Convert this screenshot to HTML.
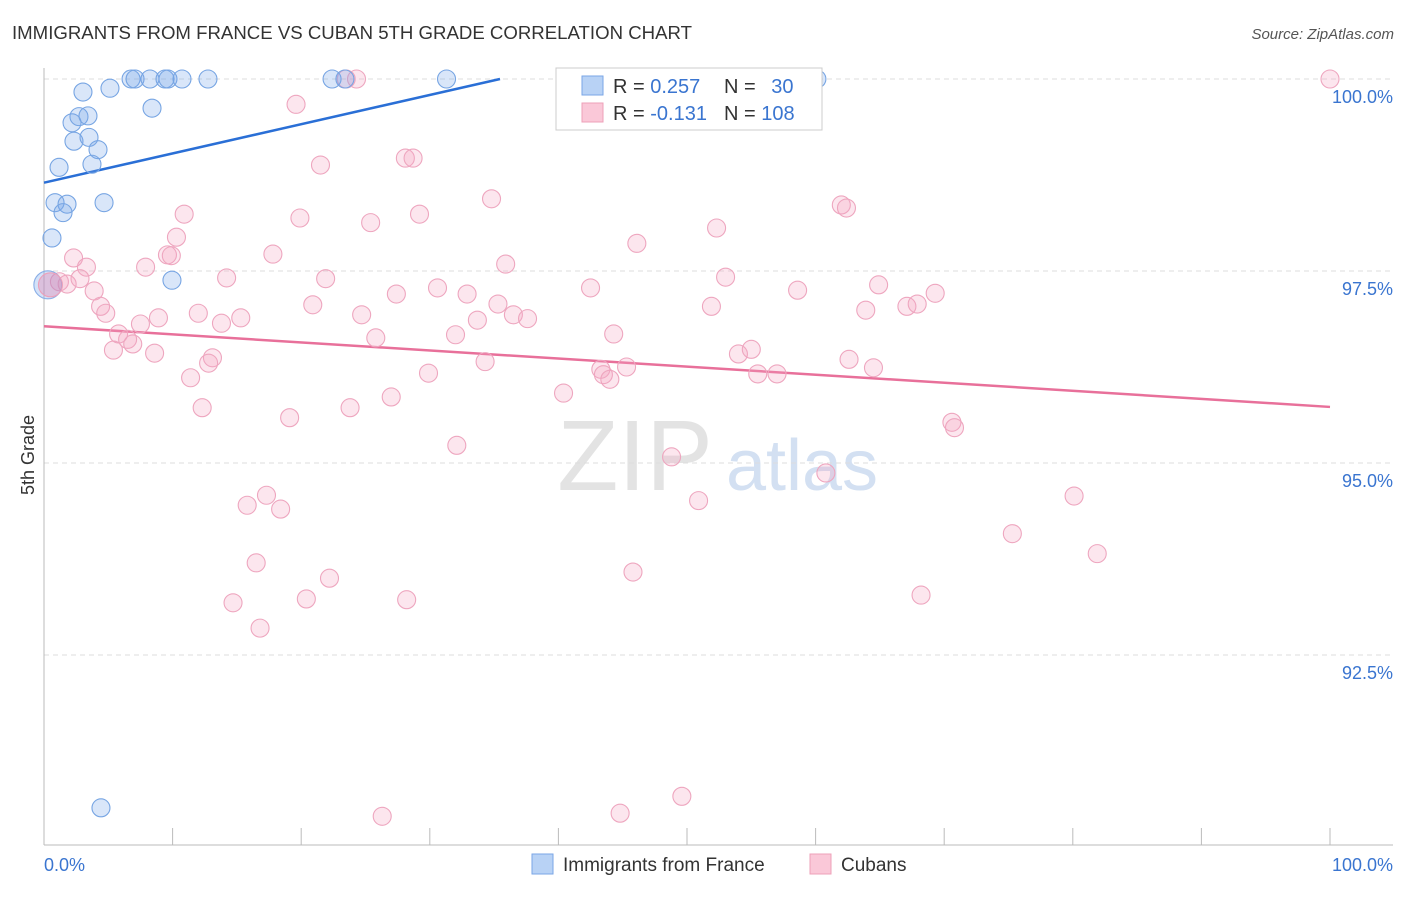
<!DOCTYPE html>
<html><head><meta charset="utf-8"><style>
body{margin:0;background:#fff;font-family:"Liberation Sans",sans-serif;}
svg text{font-family:"Liberation Sans",sans-serif;}
</style></head><body>
<svg id="chart" width="1406" height="892" xmlns="http://www.w3.org/2000/svg">
<text x="12" y="39" font-size="18" fill="#333" textLength="680" lengthAdjust="spacingAndGlyphs">IMMIGRANTS FROM FRANCE VS CUBAN 5TH GRADE CORRELATION CHART</text>
<text x="1394" y="39" font-size="15" fill="#555" text-anchor="end" font-style="italic">Source: ZipAtlas.com</text>
<text transform="translate(34,455) rotate(-90)" font-size="18" fill="#333" text-anchor="middle">5th Grade</text>
<g>
<text x="635" y="490" font-size="100" fill="#e3e3e3" font-family="Liberation Serif" text-anchor="middle">ZIP</text>
<text x="802" y="490" font-size="72" fill="#d3e0f2" text-anchor="middle">atlas</text>
</g>
<g id="grid"></g><g id="axes"></g><g id="trend"></g><g id="pts"></g>
<g>
<rect x="556" y="68" width="266" height="62" fill="#fff" stroke="#ccc"/>
<rect x="582" y="76" width="21" height="19" fill="#b8d2f5" stroke="#7aa6e6"/>
<rect x="582" y="103" width="21" height="19" fill="#fac8d8" stroke="#eea0b8"/>
<text x="613" y="93" font-size="20" fill="#333">R = <tspan fill="#3a75d0">0.257</tspan></text>
<text x="724" y="93" font-size="20" fill="#333">N = <tspan fill="#3a75d0" dx="10">30</tspan></text>
<text x="613" y="120" font-size="20" fill="#333">R = <tspan fill="#3a75d0">-0.131</tspan></text>
<text x="724" y="120" font-size="20" fill="#333">N = <tspan fill="#3a75d0">108</tspan></text>
</g>
<g>
<rect x="532" y="854" width="21" height="20" fill="#b8d2f5" stroke="#7aa6e6"/>
<text x="563" y="871" font-size="19" fill="#333">Immigrants from France</text>
<rect x="810" y="854" width="21" height="20" fill="#fac8d8" stroke="#eea0b8"/>
<text x="841" y="871" font-size="19" fill="#333">Cubans</text>
</g>
</svg>
<script>
const blueX=[0.86,1.79,1.48,0.62,1.17,2.18,2.72,3.42,2.33,3.5,4.2,3.73,3.03,5.13,6.77,7.08,8.24,9.41,9.64,10.73,12.75,8.4,4.67,9.95,22.4,23.4,31.3,60.1,4.43];
const blueY=[98.39,98.37,98.26,97.93,98.85,99.43,99.51,99.52,99.19,99.24,99.08,98.89,99.83,99.88,100,100,100,100,100,100,100,99.62,98.39,97.38,100,100,100,100,90.51];
const pinkX=[100,24.3,23.5,19.6,21.5,28.1,28.7,34.8,29.2,25.4,19.9,10.9,10.3,9.6,9.9,7.9,2.3,3.3,14.2,17.8,21.9,35.9,46.1,52.3,62.0,62.4,1.2,1.8,2.8,3.9,4.4,4.8,5.8,5.4,6.5,6.9,7.5,8.6,8.9,12.0,13.8,15.3,20.9,24.7,25.8,27.4,30.6,32.9,35.3,33.7,36.5,37.6,32.0,42.5,44.3,51.9,53.0,58.6,64.9,63.9,67.1,67.9,69.3,34.3,29.9,27.0,23.8,19.1,13.1,12.8,11.4,12.3,40.4,43.3,43.5,44.0,45.3,54.0,55.0,55.5,57.0,62.6,64.5,32.1,48.8,60.8,70.6,70.8,80.1,50.9,17.3,15.8,18.4,75.3,81.9,16.5,22.2,45.8,20.4,14.7,28.2,68.2,16.8,26.3,44.8,49.6];
const pinkY=[100,100,100,99.67,98.88,98.97,98.97,98.44,98.24,98.13,98.19,98.24,97.94,97.71,97.70,97.55,97.67,97.55,97.41,97.72,97.40,97.59,97.86,98.06,98.36,98.32,97.36,97.33,97.40,97.24,97.04,96.95,96.68,96.47,96.61,96.55,96.81,96.43,96.89,96.95,96.82,96.89,97.06,96.93,96.63,97.20,97.28,97.20,97.07,96.86,96.93,96.88,96.67,97.28,96.68,97.04,97.42,97.25,97.32,96.99,97.04,97.07,97.21,96.32,96.17,95.86,95.72,95.59,96.37,96.30,96.11,95.72,95.91,96.22,96.15,96.09,96.25,96.42,96.48,96.16,96.16,96.35,96.24,95.23,95.08,94.87,95.53,95.46,94.57,94.51,94.58,94.45,94.40,94.08,93.82,93.70,93.50,93.58,93.23,93.18,93.22,93.28,92.85,90.40,90.44,90.66];
const bigX=[0.3,0.5];
const bigY=[97.32,97.32];
const yTicks=[100,97.5,95,92.5];
const yTickLabels=["100.0%","97.5%","95.0%","92.5%"];
const blueTrend=[[0,98.65],[35.46,100]];
const pinkTrend=[[0,96.78],[100,95.73]];
const NS='http://www.w3.org/2000/svg';
const X=v=>44+v*12.86, Y=v=>79+(100-v)*76.8;
function mk(t,a,p){const e=document.createElementNS(NS,t);for(const k in a)e.setAttribute(k,a[k]);p.appendChild(e);return e;}
const grid=document.getElementById('grid'),axes=document.getElementById('axes'),tr=document.getElementById('trend'),pts=document.getElementById('pts');
yTicks.forEach((t,i)=>{
 const l=mk('line',{x1:44,x2:1393,y1:Y(t),y2:Y(t),stroke:'#ddd','stroke-dasharray':'5,4'},grid);
 
 
 const tx=mk('text',{x:1393,y:Y(t)+24,'font-size':18,fill:'#3a75d0','text-anchor':'end'},axes);
 tx.textContent=yTickLabels[i];
 
 
});
const la=mk('line',{x1:44,x2:44,y1:68,y2:845,stroke:'#bbb'},axes);


const lb=mk('line',{x1:44,x2:1393,y1:845,y2:845,stroke:'#bbb'},axes);


for(let i=0;i<=10;i++){
 const t=mk('line',{x1:X(i*10),x2:X(i*10),y1:828,y2:845,stroke:'#bbb'},axes);
 
 
}
[['0.0%',44,'start'],['100.0%',1393,'end']].forEach(d=>{
 const t=mk('text',{x:d[1],y:871,'font-size':18,fill:'#3a75d0','text-anchor':d[2]},axes);
 t.textContent=d[0];
 
 
});
function dot(x,y,r,fill,stroke,name){
 const c=mk('circle',{cx:X(x),cy:Y(y),r:r,fill:fill,stroke:stroke,'stroke-width':1.1},pts);
 
 
}
pinkX.forEach((x,i)=>dot(x,pinkY[i],9,'rgba(245,165,195,0.28)','#eea6bf','cubans-point'));
blueX.forEach((x,i)=>dot(x,blueY[i],9,'rgba(120,165,235,0.28)','#77a5e3','france-point'));
dot(bigX[0],bigY[0],14,'rgba(110,160,235,0.3)','#8aaee6','france-point');
dot(bigX[1],bigY[1],12,'rgba(235,130,170,0.35)','#eca0ba','cubans-point');
const bt=mk('line',{x1:X(blueTrend[0][0]),y1:Y(blueTrend[0][1]),x2:X(blueTrend[1][0]),y2:Y(blueTrend[1][1]),stroke:'#2a6fd6','stroke-width':2.5},tr);


const pt=mk('line',{x1:X(pinkTrend[0][0]),y1:Y(pinkTrend[0][1]),x2:X(pinkTrend[1][0]),y2:Y(pinkTrend[1][1]),stroke:'#e8709a','stroke-width':2.5},tr);


</script>
</body></html>
